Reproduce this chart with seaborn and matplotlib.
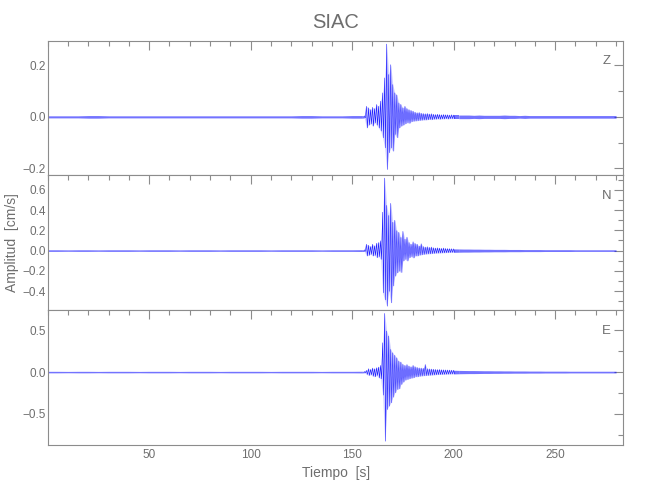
import numpy as np
import pandas as pd
import matplotlib
matplotlib.use("Agg")
import matplotlib.pyplot as plt
from matplotlib.ticker import MultipleLocator, FixedLocator
import seaborn as sns

# ========== Data / 数据 (per-bin max/min) ==========
# pre-event noise: bins of 5 s starting at 0 s, half band width
t_pre = np.arange(0, 156, 5)
z_pre = [0.004, 0.004, 0.004, 0.004, 0.005, 0.005, 0.004, 0.004, 0.004, 0.004, 0.004,
         0.004, 0.004, 0.004, 0.004, 0.004, 0.004, 0.004, 0.004, 0.004, 0.004, 0.004,
         0.004, 0.004, 0.004, 0.005, 0.005, 0.004, 0.004, 0.004, 0.005, 0.005]
n_pre = [0.008, 0.008, 0.007, 0.008, 0.008, 0.007, 0.008, 0.008, 0.008, 0.007, 0.008,
         0.008, 0.008, 0.007, 0.008, 0.008, 0.008, 0.007, 0.008, 0.008, 0.008, 0.008,
         0.007, 0.008, 0.008, 0.008, 0.008, 0.007, 0.008, 0.008, 0.008, 0.009]
e_pre = [0.009, 0.009, 0.008, 0.009, 0.009, 0.008, 0.009, 0.009, 0.009, 0.008, 0.009,
         0.009, 0.009, 0.008, 0.009, 0.009, 0.009, 0.008, 0.009, 0.009, 0.009, 0.009,
         0.008, 0.009, 0.009, 0.009, 0.009, 0.008, 0.009, 0.009, 0.009, 0.010]

# event: 1 s bins from 156 s to 200 s, upper / lower envelope
t_ev = np.arange(156, 201, 1)
z_hi = [0.004, 0.041, 0.035, 0.028, 0.037, 0.032, 0.048, 0.041, 0.061, 0.093, 0.151,
        0.282, 0.164, 0.202, 0.125, 0.093, 0.085, 0.054, 0.048, 0.035, 0.041, 0.032,
        0.028, 0.025, 0.022, 0.018, 0.016, 0.017, 0.014, 0.013, 0.012, 0.013, 0.011,
        0.012, 0.010, 0.009, 0.010, 0.009, 0.008, 0.009, 0.008, 0.008, 0.007, 0.008, 0.007]
z_lo = [-0.004, -0.043, -0.032, -0.027, -0.036, -0.023, -0.032, -0.043, -0.055, -0.081,
        -0.120, -0.204, -0.139, -0.120, -0.133, -0.068, -0.081, -0.043, -0.036, -0.032,
        -0.027, -0.023, -0.025, -0.019, -0.017, -0.016, -0.015, -0.014, -0.013, -0.012,
        -0.012, -0.011, -0.010, -0.011, -0.009, -0.009, -0.008, -0.009, -0.008, -0.008,
        -0.007, -0.008, -0.007, -0.007, -0.007]
n_hi = [0.008, 0.063, 0.053, 0.040, 0.063, 0.047, 0.073, 0.080, 0.097, 0.380, 0.717,
        0.447, 0.347, 0.467, 0.280, 0.300, 0.197, 0.180, 0.130, 0.190, 0.113, 0.133,
        0.080, 0.063, 0.087, 0.070, 0.063, 0.045, 0.067, 0.040, 0.035, 0.038, 0.032,
        0.035, 0.028, 0.025, 0.027, 0.024, 0.022, 0.025, 0.021, 0.020, 0.019, 0.018, 0.017]
n_lo = [-0.008, -0.053, -0.047, -0.037, -0.053, -0.047, -0.070, -0.060, -0.087, -0.417,
        -0.487, -0.550, -0.403, -0.517, -0.350, -0.253, -0.220, -0.203, -0.217, -0.103,
        -0.087, -0.103, -0.070, -0.060, -0.073, -0.053, -0.053, -0.045, -0.042, -0.038,
        -0.035, -0.033, -0.032, -0.030, -0.028, -0.026, -0.025, -0.024, -0.023, -0.022,
        -0.021, -0.020, -0.019, -0.018, -0.017]
e_hi = [0.008, 0.020, 0.040, 0.032, 0.048, 0.040, 0.052, 0.060, 0.080, 0.350, 0.700,
        0.490, 0.430, 0.270, 0.230, 0.200, 0.170, 0.130, 0.120, 0.092, 0.080, 0.090,
        0.072, 0.064, 0.080, 0.064, 0.056, 0.050, 0.048, 0.045, 0.090, 0.040, 0.038,
        0.036, 0.034, 0.032, 0.030, 0.031, 0.028, 0.027, 0.026, 0.025, 0.024, 0.023, 0.022]
e_lo = [-0.008, -0.028, -0.040, -0.032, -0.048, -0.056, -0.040, -0.068, -0.080, -0.275,
        -0.825, -0.447, -0.407, -0.367, -0.300, -0.247, -0.207, -0.200, -0.148, -0.120,
        -0.096, -0.088, -0.080, -0.072, -0.068, -0.056, -0.056, -0.050, -0.047, -0.044,
        -0.042, -0.040, -0.038, -0.036, -0.034, -0.032, -0.030, -0.029, -0.028, -0.027,
        -0.026, -0.025, -0.024, -0.023, -0.022]

# coda: 2.5 s bins from 202.5 s to 280 s, half band width
t_tail = np.arange(202.5, 281, 2.5)
z_tail = [0.007, 0.007, 0.007, 0.006, 0.007, 0.006, 0.006, 0.006, 0.006, 0.007, 0.006,
          0.006, 0.005, 0.006, 0.005, 0.005, 0.005, 0.005, 0.005, 0.005, 0.005, 0.005,
          0.005, 0.005, 0.005, 0.005, 0.005, 0.005, 0.005, 0.005, 0.005, 0.005]
n_tail = [0.016, 0.015, 0.015, 0.014, 0.014, 0.013, 0.013, 0.012, 0.012, 0.012, 0.011,
          0.011, 0.011, 0.010, 0.010, 0.010, 0.010, 0.009, 0.009, 0.009, 0.009, 0.009,
          0.009, 0.008, 0.008, 0.008, 0.008, 0.008, 0.008, 0.008, 0.008, 0.008]
e_tail = [0.020, 0.019, 0.018, 0.018, 0.017, 0.016, 0.016, 0.015, 0.015, 0.014, 0.014,
          0.013, 0.013, 0.013, 0.012, 0.012, 0.012, 0.011, 0.011, 0.011, 0.011, 0.011,
          0.010, 0.010, 0.010, 0.010, 0.010, 0.010, 0.010, 0.010, 0.010, 0.010]

components = ["Z", "N", "E"]
ylims = [(-0.227, 0.295), (-0.59, 0.743), (-0.87, 0.738)]
ymajor = [[-0.2, 0.0, 0.2], [-0.4, -0.2, 0.0, 0.2, 0.4, 0.6], [-0.5, 0.0, 0.5]]
yminor = [0.1, 0.1, 0.25]
xticks = [50, 100, 150, 200, 250]

GREY = "#8c8c8c"
TXT = "#6e6e6e"
BLUE = "#0000ff"


# ========== Helper / 辅助函数 ==========
def event_trace(hi, lo):
    """Per-second max/min -> alternating min/max trace for the event window."""
    t, y = [], []
    for tt, h, l in zip(t_ev, hi, lo):
        t += [tt, tt + 0.5]
        y += [h, l]
    return pd.DataFrame({"t": t, "amp": y})


def draw_component(ax, a_pre, hi, lo, a_tail):
    # quiet parts: thin band of +/- noise level
    ap = np.array(a_pre)
    at = np.array(a_tail)
    ax.fill_between(t_pre, -ap, ap, color=BLUE, alpha=0.55, lw=0)
    ax.fill_between(t_tail, -at, at, color=BLUE, alpha=0.55, lw=0)
    ax.fill_between([t_pre[-1], t_ev[0]], [-ap[-1], lo[0]], [ap[-1], hi[0]],
                    color=BLUE, alpha=0.55, lw=0)
    ax.fill_between([t_ev[-1], t_tail[0]], [lo[-1], -at[0]], [hi[-1], at[0]],
                    color=BLUE, alpha=0.55, lw=0)
    # event: light envelope + min/max trace on top
    ax.fill_between(t_ev, lo, hi, color=BLUE, alpha=0.18, lw=0)
    sns.lineplot(data=event_trace(hi, lo), x="t", y="amp", sort=False, estimator=None,
                 ax=ax, color=BLUE, linewidth=0.4, alpha=0.85)


# ========== Plot / 绘图 ==========
sns.set_style("white")
plt.rcParams["font.family"] = ["Liberation Sans", "DejaVu Sans"]

fig, axes = plt.subplots(3, 1, figsize=(6.5, 5), dpi=100, sharex=True)
plt.subplots_adjust(left=0.0734, right=0.959, top=0.9186, bottom=0.11, hspace=0)

series = [(z_pre, z_hi, z_lo, z_tail), (n_pre, n_hi, n_lo, n_tail), (e_pre, e_hi, e_lo, e_tail)]

for i, ax in enumerate(axes):
    draw_component(ax, *series[i])
    ax.set_xlim(0, 283.6)
    ax.set_ylim(*ylims[i])
    ax.set_xlabel("")
    ax.set_ylabel("")

    ax.xaxis.set_major_locator(FixedLocator(xticks))
    ax.xaxis.set_minor_locator(MultipleLocator(10))
    ax.yaxis.set_major_locator(FixedLocator(ymajor[i]))
    ax.yaxis.set_minor_locator(MultipleLocator(yminor[i]))
    ax.yaxis.set_major_formatter(plt.FuncFormatter(lambda v, p: f"{v:.1f}".replace("-", "\u2212")))

    ax.tick_params(which="both", direction="in", top=True, right=True,
                   color=GREY, labelcolor=TXT, labelsize=8.5, width=0.8)
    ax.tick_params(which="major", length=6.5)
    ax.tick_params(which="minor", length=3.3)
    ax.tick_params(axis="y", pad=1.5)
    ax.tick_params(axis="x", pad=3)
    for s in ax.spines.values():
        s.set_color(GREY)
        s.set_linewidth(0.8)

    ax.text(0.971, 0.846, components[i], transform=ax.transAxes,
            ha="center", va="center", fontsize=9.5, color=TXT)

fig.text(0.517, 0.955, "SIAC", ha="center", va="center", fontsize=14.5, color=TXT)
fig.text(0.517, 0.054, "Tiempo  [s]", ha="center", va="center", fontsize=10, color=TXT)
fig.text(0.019, 0.514, "Amplitud  [cm/s]", ha="center", va="center",
         rotation=90, fontsize=10, color=TXT)

fig.savefig("out.png", dpi=100)
